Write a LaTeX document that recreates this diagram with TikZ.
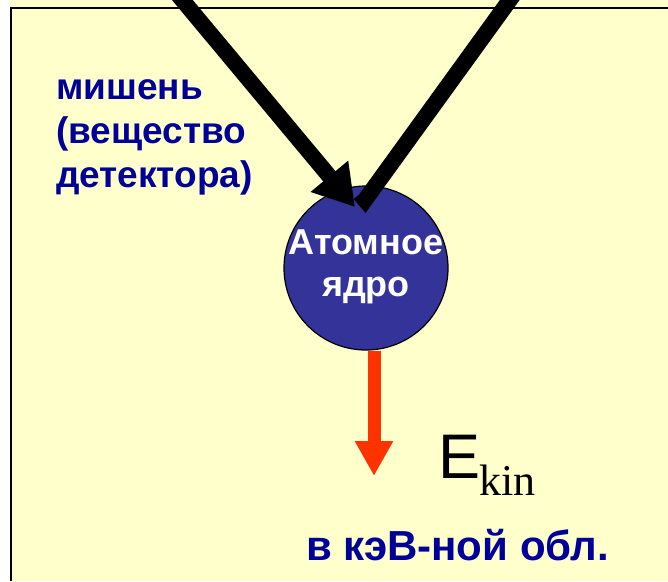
\documentclass[tikz,border=0pt]{standalone}
\usepackage{fontspec}
\setmainfont{Liberation Sans}
\newfontfamily\timesf{Liberation Serif}
\usetikzlibrary{arrows.meta}
\definecolor{bgyellow}{HTML}{FFFFCC}
\definecolor{nucblue}{HTML}{333399}
\definecolor{txtblue}{HTML}{000099}
\definecolor{redarrow}{HTML}{FF3300}
\tikzset{
  nucleus/.style={circle, fill=nucblue, draw=black, line width=1.2pt, minimum size=164pt, inner sep=0pt},
  nuctext/.style={inner sep=0pt, text=white, align=center, font=\bfseries\fontsize{36}{42}\selectfont},
  bluetext/.style={anchor=base west, inner sep=0pt, text=txtblue, font=\bfseries\fontsize{37}{44}\selectfont},
  redarr/.style={draw=redarrow, line width=13pt, -{Triangle[length=35pt,width=36pt]}},
  blackarr/.style={draw=black, line width=16pt, -{Triangle[length=40pt,width=46pt]}},
  blackline/.style={draw=black, line width=16pt, line join=miter},
}
\begin{document}
\begin{tikzpicture}[x=1pt,y=-1pt]
\useasboundingbox (0,0) rectangle (668,581);
\fill[white] (0,0) rectangle (668,581);
\fill[bgyellow] (10,0) rectangle (668,581);
\draw[line width=2pt] (11,581) -- (11,8) -- (668,8);

\node[nucleus] (nuc) at (366,268) {};
\node[nuctext] (nuclbl) at (366,267) {Атомное\\ядро};

\coordinate (rt) at (517,-10);
\coordinate (vtx) at (365,200);
\coordinate (vback) at (359.8,193.9);
\draw[blackline] (vback) -- (vtx) -- (rt);

\coordinate (lt) at (174,-10);
\coordinate (ltip) at (355,207);
\draw[blackarr] (lt) -- (ltip);

\coordinate (etip) at (374,476);
\draw[redarr] (nuc.south -| etip) -- (etip);

\node[bluetext] (t1) at (56,99) {мишень};
\node[bluetext] (t2) at (56,143) {(вещество};
\node[bluetext] (t3) at (56,187) {детектора)};

\node[anchor=base west, inner sep=0pt, font=\fontsize{63}{63}\selectfont] (E) at (438,478) {E};
\node[anchor=base west, inner sep=0pt, font=\timesf\fontsize{44}{44}\selectfont] (kin) at (479,495) {kin};

\node[anchor=base, inner sep=0pt, text=txtblue, font=\bfseries\fontsize{42}{48}\selectfont] (kev) at (457.5,560) {в кэВ-ной обл.};
\end{tikzpicture}
\end{document}
